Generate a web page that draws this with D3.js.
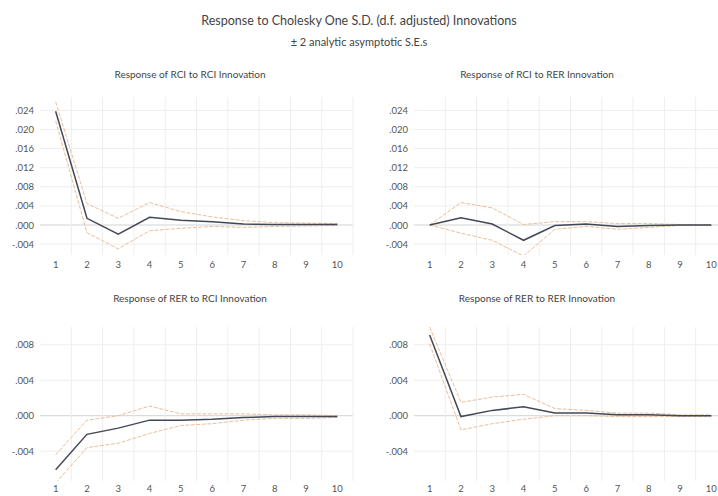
<!DOCTYPE html>
<html>
<head>
<meta charset="utf-8">
<script src="https://cdn.jsdelivr.net/npm/d3@7"></script>
<style>
  html, body { margin: 0; padding: 0; background: #ffffff; }
  svg { display: block; font-family: Lato, "Open Sans", sans-serif; }
</style>
</head>
<body>
<svg id="chart" width="718" height="496"></svg>
<script>
// Impulse-response horizons
const periods = [1, 2, 3, 4, 5, 6, 7, 8, 9, 10];

// Y tick values for the RCI-response panels and the RER-response panels
const rciTicks = [-0.004, 0.000, 0.004, 0.008, 0.012, 0.016, 0.020, 0.024];
const rerTicks = [-0.004, 0.000, 0.004, 0.008];

const mainTitle = "Response to Cholesky One S.D. (d.f. adjusted) Innovations";
const subTitle = "\u00b1 2 analytic asymptotic S.E.s";

// Response of RCI to RCI innovation
const rciRciTitle = "Response of RCI to RCI Innovation";
const rciRciResp  = [0.0238, 0.0014, -0.0019, 0.0016, 0.0010, 0.0007, 0.0002, 0.0001, 0.0001, 0.0001];
const rciRciUpper = [0.0258, 0.0045, 0.0014, 0.0047, 0.0028, 0.0017, 0.0009, 0.0005, 0.0004, 0.0003];
const rciRciLower = [0.0218, -0.0016, -0.0050, -0.0012, -0.0007, -0.0003, -0.0005, -0.0003, -0.0002, -0.0001];

// Response of RCI to RER innovation
const rciRerTitle = "Response of RCI to RER Innovation";
const rciRerResp  = [0.0000, 0.0015, 0.0002, -0.0032, -0.0001, 0.0002, -0.0003, -0.0001, 0.0000, 0.0000];
const rciRerUpper = [0.0000, 0.0047, 0.0036, 0.0001, 0.0007, 0.0007, 0.0003, 0.0003, 0.0001, 0.0001];
const rciRerLower = [0.0000, -0.0017, -0.0032, -0.0065, -0.0009, -0.0003, -0.0009, -0.0005, -0.0001, -0.0001];

// Response of RER to RCI innovation
const rerRciTitle = "Response of RER to RCI Innovation";
const rerRciResp  = [-0.0061, -0.0021, -0.0014, -0.0005, -0.0005, -0.0004, -0.0002, -0.0001, -0.0001, -0.0001];
const rerRciUpper = [-0.0044, -0.0005, 0.0000, 0.0011, 0.0002, 0.0002, 0.0002, 0.0001, 0.0001, 0.0000];
const rerRciLower = [-0.0076, -0.0036, -0.0031, -0.0020, -0.0011, -0.0009, -0.0005, -0.0003, -0.0003, -0.0002];

// Response of RER to RER innovation
const rerRerTitle = "Response of RER to RER Innovation";
const rerRerResp  = [0.0091, -0.0001, 0.0006, 0.0010, 0.0003, 0.0003, 0.0001, 0.0001, 0.0000, 0.0000];
const rerRerUpper = [0.0100, 0.0015, 0.0021, 0.0024, 0.0008, 0.0006, 0.0003, 0.0003, 0.0001, 0.0001];
const rerRerLower = [0.0081, -0.0016, -0.0009, -0.0004, 0.0000, 0.0000, -0.0001, -0.0001, -0.0001, -0.0001];

const svg = d3.select("#chart");

// Figure headings
svg.append("text")
  .attr("x", 359).attr("y", 22)
  .attr("text-anchor", "middle").attr("dominant-baseline", "middle")
  .attr("font-size", 12.5).attr("fill", "#444")
  .text(mainTitle);
svg.append("text")
  .attr("x", 359).attr("y", 43)
  .attr("text-anchor", "middle").attr("dominant-baseline", "middle")
  .attr("font-size", 11).attr("fill", "#444")
  .text(subTitle);

// Tick label format: ".024", "-.004", ".000"
function fmtTick(v) {
  const s = d3.format(".3f")(Math.abs(v)).replace(/^0/, "");
  return (v < -1e-12 ? "-" : "") + s;
}

const panels = [
  { title: rciRciTitle, resp: rciRciResp, up: rciRciUpper, lo: rciRciLower, ticks: rciTicks,
    left: 40, right: 353, top: 97, bottom: 255, domain: [-0.00628, 0.0268], titleY: 75, xLabY: 267, titleX: 190 },
  { title: rciRerTitle, resp: rciRerResp, up: rciRerUpper, lo: rciRerLower, ticks: rciTicks,
    left: 414, right: 727, top: 97, bottom: 255, domain: [-0.00628, 0.0268], titleY: 75, xLabY: 267, titleX: 537 },
  { title: rerRciTitle, resp: rerRciResp, up: rerRciUpper, lo: rerRciLower, ticks: rerTicks,
    left: 40, right: 353, top: 327, bottom: 481, domain: [-0.00736, 0.0100], titleY: 299, xLabY: 491, titleX: 190 },
  { title: rerRerTitle, resp: rerRerResp, up: rerRerUpper, lo: rerRerLower, ticks: rerTicks,
    left: 414, right: 727, top: 327, bottom: 481, domain: [-0.00736, 0.0100], titleY: 299, xLabY: 491, titleX: 537 }
];

panels.forEach((p, i) => {
  const x = d3.scaleBand().domain(periods).range([p.left, p.right]);
  const y = d3.scaleLinear().domain(p.domain).range([p.bottom, p.top]);
  const cx = d => x(d) + x.bandwidth() / 2;
  const g = svg.append("g");

  // panel title
  g.append("text")
    .attr("x", p.titleX).attr("y", p.titleY)
    .attr("text-anchor", "middle").attr("dominant-baseline", "middle")
    .attr("font-size", 10).attr("fill", "#444")
    .text(p.title);

  // horizontal grid
  g.selectAll("line.hg").data(p.ticks).join("line")
    .attr("x1", p.left).attr("x2", p.right)
    .attr("y1", d => y(d)).attr("y2", d => y(d))
    .attr("stroke", d => d === 0 ? "#d2d2d2" : "#eeeeee")
    .attr("stroke-width", 1);

  // vertical grid at band boundaries
  g.selectAll("line.vg").data(periods.slice(1)).join("line")
    .attr("x1", d => x(d)).attr("x2", d => x(d))
    .attr("y1", p.top).attr("y2", p.bottom)
    .attr("stroke", "#eeeeee").attr("stroke-width", 1);
  g.append("line")
    .attr("x1", p.right).attr("x2", p.right)
    .attr("y1", p.top).attr("y2", p.bottom)
    .attr("stroke", "#eeeeee");

  // y-axis labels
  const yAxis = d3.axisLeft(y).tickValues(p.ticks).tickFormat(fmtTick).tickSize(0).tickPadding(6);
  const ya = g.append("g").attr("transform", `translate(${p.left},0)`).call(yAxis);
  ya.select(".domain").remove();
  ya.selectAll("text").attr("font-size", 9.5).attr("fill", "#555")
    .attr("font-family", "Lato, 'Open Sans', sans-serif");

  // x-axis labels
  const xAxis = d3.axisBottom(x).tickSize(0).tickPadding(0);
  const xa = g.append("g").attr("transform", `translate(0,${p.xLabY - 6})`).call(xAxis);
  xa.select(".domain").remove();
  xa.selectAll("text").attr("font-size", 9.5).attr("fill", "#555")
    .attr("font-family", "Lato, 'Open Sans', sans-serif");

  // clip lines to the plot area
  const clipId = "clip" + i;
  svg.append("clipPath").attr("id", clipId).append("rect")
    .attr("x", p.left).attr("y", p.top - 4)
    .attr("width", p.right - p.left).attr("height", p.bottom - p.top + 4);

  const line = d3.line().x((d, k) => cx(periods[k])).y(d => y(d));
  const lines = g.append("g").attr("clip-path", `url(#${clipId})`);

  [p.up, p.lo].forEach(band => {
    lines.append("path").datum(band)
      .attr("d", line)
      .attr("fill", "none")
      .attr("stroke", "#e9c09a")
      .attr("stroke-width", 1)
      .attr("stroke-dasharray", "4,1.5");
  });
  lines.append("path").datum(p.resp)
    .attr("d", line)
    .attr("fill", "none")
    .attr("stroke", "#434858")
    .attr("stroke-width", 1.5);
});
</script>
</body>
</html>
